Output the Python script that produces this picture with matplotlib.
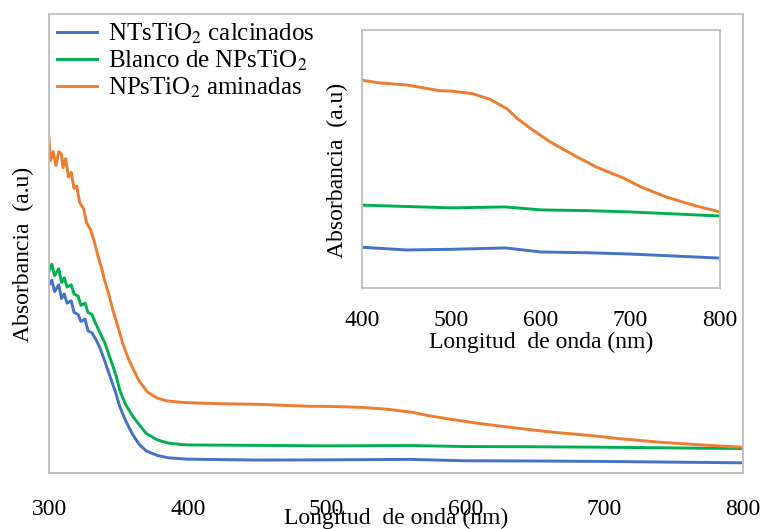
import matplotlib
matplotlib.use("Agg")
import matplotlib.pyplot as plt

plt.rcParams['font.family'] = ['Liberation Serif', 'DejaVu Serif']
plt.rcParams['mathtext.fontset'] = 'stix'

# Wavelength (nm) and absorbance (a.u.)
wl_blue = [300, 302, 304, 307, 309, 311, 313, 316, 318, 321, 323, 326, 328, 331, 334, 337, 340,
           344, 348, 351, 355, 360, 365, 370, 378, 386, 395, 400, 450, 500, 560, 600, 650, 700, 750, 800]
abs_blue = [0.41, 0.42, 0.395, 0.41, 0.38, 0.39, 0.37, 0.375, 0.35, 0.345, 0.33, 0.335, 0.31, 0.305,
            0.29, 0.27, 0.245, 0.21, 0.175, 0.144, 0.115, 0.085, 0.062, 0.048, 0.038, 0.033, 0.031,
            0.030, 0.028, 0.0285, 0.0295, 0.0265, 0.026, 0.025, 0.0235, 0.022]

wl_green = [300, 302, 304, 307, 309, 311, 313, 316, 318, 321, 323, 326, 328, 331, 333, 336, 340,
            344, 348, 351, 355, 360, 365, 370, 378, 386, 395, 400, 450, 500, 560, 600, 650, 700, 750, 800]
abs_green = [0.44, 0.455, 0.43, 0.445, 0.415, 0.425, 0.405, 0.41, 0.39, 0.385, 0.365, 0.37, 0.35,
             0.345, 0.33, 0.31, 0.285, 0.25, 0.215, 0.18, 0.15, 0.125, 0.105, 0.086, 0.072, 0.065,
             0.062, 0.061, 0.060, 0.059, 0.0597, 0.0575, 0.057, 0.056, 0.0545, 0.053]

wl_orange = [300, 301, 303, 305, 307, 309, 310, 312, 314, 316, 318, 320, 322, 325, 327, 330, 333,
             335, 338, 340, 343, 346, 350, 353, 357, 361, 365, 371, 378, 385, 395, 400, 420, 450,
             487, 500, 524, 543, 562, 573, 588, 610, 636, 662, 692, 711, 740, 770, 800]
abs_orange = [0.73, 0.68, 0.70, 0.67, 0.70, 0.695, 0.665, 0.685, 0.645, 0.655, 0.62, 0.625, 0.59,
              0.575, 0.545, 0.53, 0.50, 0.475, 0.445, 0.42, 0.39, 0.355, 0.315, 0.283, 0.25, 0.224,
              0.20, 0.176, 0.163, 0.157, 0.154, 0.153, 0.151, 0.1495, 0.1453, 0.145, 0.143, 0.139,
              0.132, 0.125, 0.1176, 0.1077, 0.098, 0.089, 0.081, 0.0746, 0.067, 0.061, 0.056]

labels = ['NTsTiO$_2$ calcinados', 'Blanco de NPsTiO$_2$', 'NPsTiO$_2$ aminadas']
colors = ['#4472C4', '#00B050', '#ED7D31']
xticks_main = [300, 400, 500, 600, 700, 800]
xticks_inset = [400, 500, 600, 700, 800]

series = [(wl_blue, abs_blue), (wl_green, abs_green), (wl_orange, abs_orange)]

fig = plt.figure(figsize=(7.66, 5.29), dpi=100)
ax = fig.add_axes([0.064, 0.106, 0.906, 0.8675])
axi = fig.add_axes([0.4726, 0.4556, 0.4674, 0.4877])

frame_col = '#BFBFBF'
fs = 17

for a, pad in ((ax, 19), (axi, 15.5)):
    for s in a.spines.values():
        s.set_color(frame_col)
        s.set_linewidth(1.3)
    a.set_yticks([])
    a.tick_params(axis='x', length=0, pad=pad, labelsize=fs)

lines = []
for (x, y), c, lab in zip(series, colors, labels):
    ln, = ax.plot(x, y, color=c, lw=2.1, label=lab)
    lines.append(ln)
    axi.plot(x, y, color=c, lw=2.1)

ax.set_xlim(300, 800)
ax.set_ylim(0, 1.0)
ax.set_xticks(xticks_main)
axi.set_xlim(400, 800)
axi.set_ylim(0, 0.19)
axi.set_xticks(xticks_inset)

ax.set_xlabel('Longitud  de onda (nm)', fontsize=fs)
ax.xaxis.set_label_coords(0.5, -0.077)
ax.set_ylabel('Absorbancia  (a.u)', fontsize=fs)
ax.yaxis.set_label_coords(-0.022, 0.477)

axi.set_xlabel('Longitud  de onda (nm)', fontsize=fs)
axi.xaxis.set_label_coords(0.5, -0.168)
axi.set_ylabel('Absorbancia  (a.u)', fontsize=fs)
axi.yaxis.set_label_coords(-0.04, 0.457)

ax.legend(handles=lines, loc='upper left', bbox_to_anchor=(0.0, 1.0), frameon=False,
          fontsize=18, handlelength=1.6, handletextpad=0.44, labelspacing=0.12,
          borderaxespad=0.1, borderpad=0.2)

fig.savefig('out.png', dpi=100)
